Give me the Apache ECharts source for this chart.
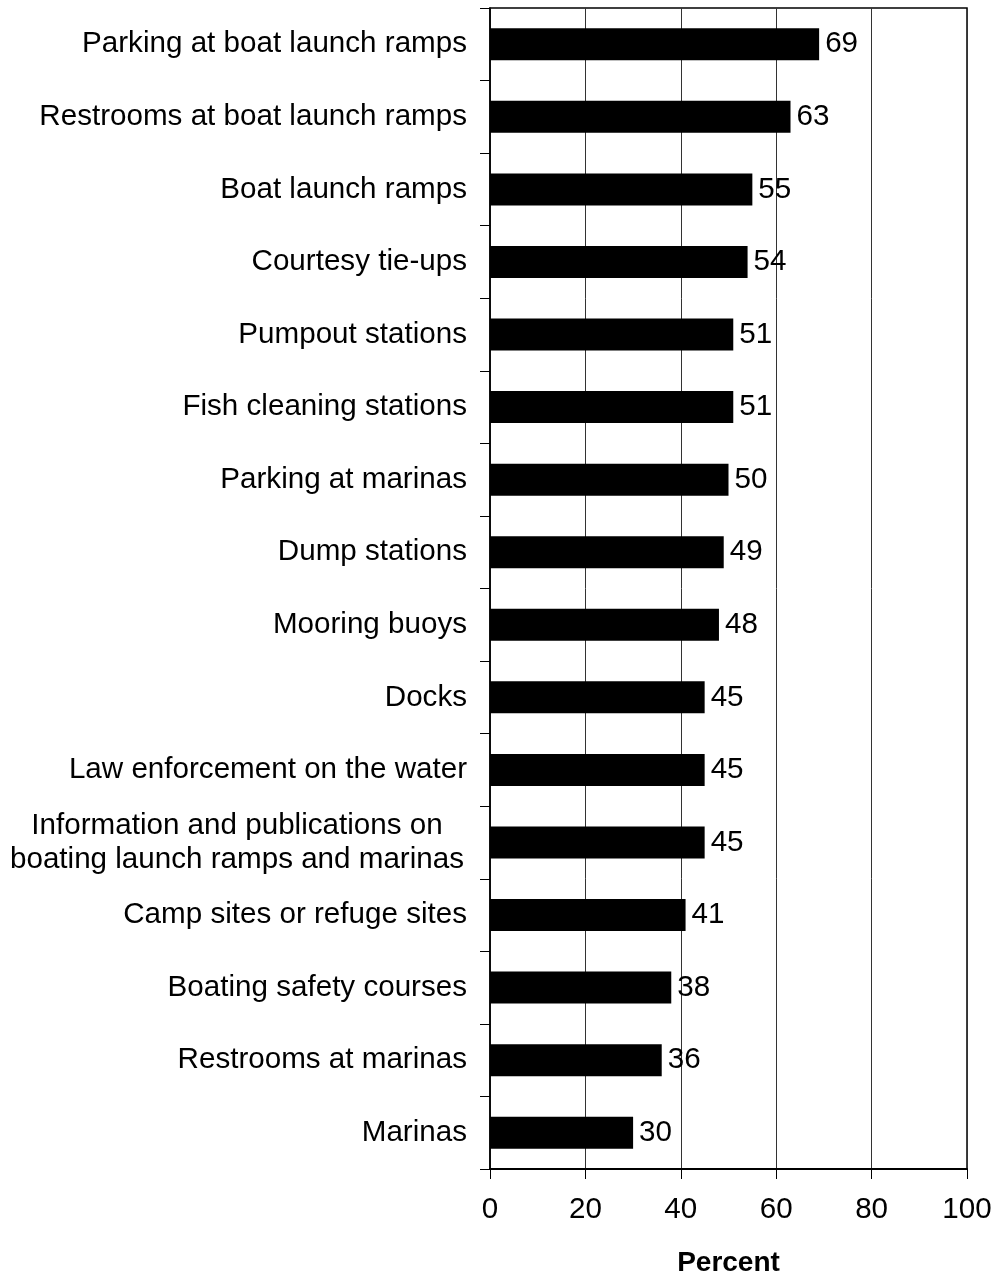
<!DOCTYPE html>
<html><head><meta charset="utf-8">
<script src="https://cdn.jsdelivr.net/npm/echarts@6/dist/echarts.min.js"></script>
<style>html,body{margin:0;padding:0;background:#fff}#c{width:997px;height:1276px}</style>
</head><body><div id="c"></div>
<script>
const categories = [
  "Parking at boat launch ramps",
  "Restrooms at boat launch ramps",
  "Boat launch ramps",
  "Courtesy tie-ups",
  "Pumpout stations",
  "Fish cleaning stations",
  "Parking at marinas",
  "Dump stations",
  "Mooring buoys",
  "Docks",
  "Law enforcement on the water",
  "Information and publications on\nboating launch ramps and marinas",
  "Camp sites or refuge sites",
  "Boating safety courses",
  "Restrooms at marinas",
  "Marinas"
];
const values = [69, 63, 55, 54, 51, 51, 50, 49, 48, 45, 45, 45, 41, 38, 36, 30];
const xTicks = [0, 20, 40, 60, 80, 100];
const axisTitle = "Percent";

const FONT = "'Liberation Sans', Arial, sans-serif";
const FS = 29.6;
const chart = echarts.init(document.getElementById('c'), null, {renderer: 'canvas'});
chart.setOption({
  animation: false,
  backgroundColor: '#fff',
  grid: {left: 490, right: 30, top: 8, bottom: 107, containLabel: false, outerBoundsMode: 'none',
         show: true, borderColor: '#000', borderWidth: 1.5, backgroundColor: 'transparent'},
  xAxis: {
    type: 'value', min: xTicks[0], max: xTicks[xTicks.length - 1], interval: 20,
    name: axisTitle, nameLocation: 'middle', nameGap: 80,
    nameTextStyle: {fontFamily: FONT, fontSize: 28, fontWeight: 'bold', color: '#000'},
    axisLine: {show: true, lineStyle: {color: '#000', width: 2}},
    axisTick: {show: true, length: 10, lineStyle: {color: '#000', width: 1}},
    axisLabel: {fontFamily: FONT, fontSize: FS, color: '#000', margin: 26},
    splitLine: {show: true, lineStyle: {color: '#333', width: 1}}
  },
  yAxis: {
    type: 'category', data: categories, inverse: true,
    axisLine: {show: true, lineStyle: {color: '#000', width: 1.5}},
    axisTick: {show: true, length: 10, inside: false, alignWithLabel: false, lineStyle: {color: '#000', width: 1}},
    axisLabel: {
      fontFamily: FONT, fontSize: FS, color: '#000', margin: 23, lineHeight: 34,
      formatter: function (v) {
        if (v.indexOf('\n') >= 0) {
          return v.split('\n').map(function (s) { return '{c|' + s + '}'; }).join('\n');
        }
        return v;
      },
      rich: {c: {fontFamily: FONT, fontSize: FS, color: '#000', width: 460, align: 'center', lineHeight: 34}}
    },
    splitLine: {show: false}
  },
  series: [{
    type: 'bar', data: values, barWidth: 32,
    itemStyle: {color: '#000'},
    label: {show: true, position: 'right', distance: 6, fontFamily: FONT, fontSize: FS, color: '#000'}
  }]
});
</script></body></html>
